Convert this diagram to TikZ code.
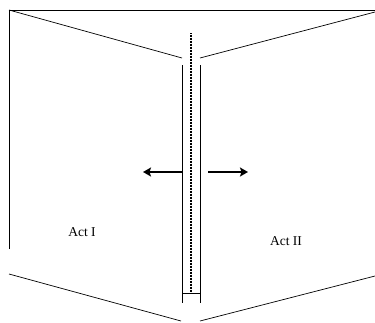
\documentclass[tikz,border=0pt]{standalone}
\usepackage{fontspec}
\setmainfont{Liberation Serif}
\usetikzlibrary{arrows.meta}

\begin{document}
\begin{tikzpicture}[x=1pt,y=-1pt,line width=0.7pt,
    pusharrow/.style={line width=1.8pt,-{Stealth[length=8pt,width=9pt,inset=1.5pt]}},
    actlabel/.style={font=\fontsize{13.5}{15}\selectfont}]
  \useasboundingbox (0,0) rectangle (375,322);
  % outer walls
  \draw (9,249) -- (9,10) -- (375,10);
  \draw (9,10) -- (182,58);
  \draw (200,58) -- (375,12);
  \draw (9,274) -- (181,321);
  \draw (200,321) -- (375,276);
  % central partition
  \draw (182,65) -- (182,303);
  \draw (200,65) -- (200,303);
  \draw (182,293) -- (200,293);
  \draw[line width=1.3pt,dash pattern=on 0.8pt off 0.7pt] (191,33) -- (191,293);
  % pushes
  \coordinate (leftfrom) at (182,172);
  \coordinate (leftto) at (143,172);
  \coordinate (rightfrom) at (208,172);
  \coordinate (rightto) at (248,172);
  \draw[pusharrow] (leftfrom) -- (leftto);
  \draw[pusharrow] (rightfrom) -- (rightto);
  \node[actlabel] (actone) at (82,232) {Act I};
  \node[actlabel] (acttwo) at (286,241) {Act II};
\end{tikzpicture}
\end{document}
